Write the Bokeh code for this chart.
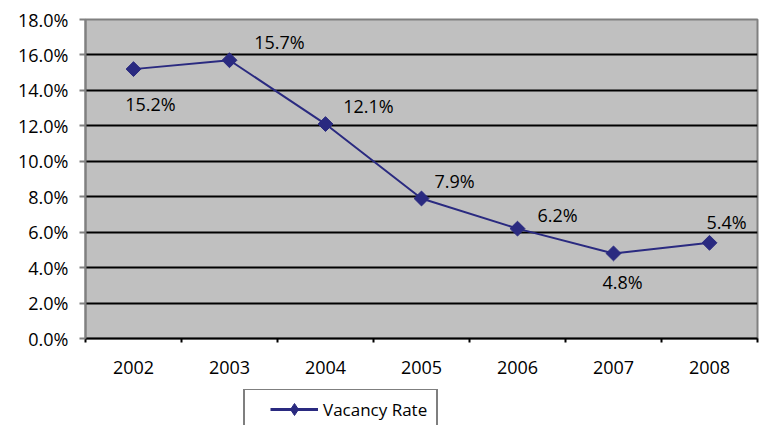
import numpy as np
from bokeh.plotting import figure
from bokeh.layouts import column
from bokeh.models import FixedTicker, Range1d, Legend, LegendItem, ColumnDataSource
from bokeh.core.properties import value
from bokeh.embed import file_html
from bokeh.resources import INLINE

# ---- data ----
years = ["2002", "2003", "2004", "2005", "2006", "2007", "2008"]
vacancy = [15.2, 15.7, 12.1, 7.9, 6.2, 4.8, 5.4]
y_ticks = [0, 2, 4, 6, 8, 10, 12, 14, 16, 18]
series_name = "Vacancy Rate"

# label placement (screen px offsets from each point)
label_dx = [17, 50, 43, 33, 40, 9, 17]
label_dy = [35, -18, -18, -17, -14, 29, -21]

FONT = "Open Sans"
LINE_COLOR = "#2A2A80"

xs = [i + 0.5 for i in range(len(years))]

p = figure(width=762, height=389, x_range=Range1d(0, len(years)), y_range=Range1d(0, 18),
           output_backend="svg", toolbar_location=None,
           min_border_left=85, min_border_right=5, min_border_top=19, min_border_bottom=51)
p.background_fill_color = "#C0C0C0"
p.border_fill_color = "white"
p.outline_line_color = "#808080"
p.outline_line_width = 2

# grid
p.xgrid.visible = False
p.ygrid.ticker = FixedTicker(ticks=y_ticks[1:-1])
p.ygrid.grid_line_color = "black"
p.ygrid.grid_line_width = 2

# y axis
ya = p.yaxis[0]
ya.ticker = FixedTicker(ticks=y_ticks)
ya.major_label_overrides = {v: f"{v:.1f}%" for v in y_ticks}
ya.axis_line_color = "#808080"
ya.axis_line_width = 2
ya.major_tick_line_color = "#808080"
ya.major_tick_line_width = 2
ya.major_tick_out = 6
ya.major_tick_in = 0
ya.minor_tick_line_color = None
ya.major_label_standoff = 11
ya.major_label_text_font = FONT
ya.major_label_text_font_size = "18px"
ya.major_label_text_color = "black"

# x axis
xa = p.xaxis[0]
xa.ticker = FixedTicker(ticks=xs, minor_ticks=list(range(len(years) + 1)))
xa.major_label_overrides = {x: y for x, y in zip(xs, years)}
xa.axis_line_color = "black"
xa.axis_line_width = 2
xa.major_tick_line_color = None
xa.major_tick_out = 0
xa.major_tick_in = 0
xa.minor_tick_line_color = "black"
xa.minor_tick_line_width = 2
xa.minor_tick_out = 4
xa.minor_tick_in = 0
xa.major_label_standoff = 18
xa.major_label_text_font = FONT
xa.major_label_text_font_size = "18px"
xa.major_label_text_color = "black"

src = ColumnDataSource(dict(x=xs, y=vacancy, label=[f"{v:.1f}%" for v in vacancy],
                            dx=label_dx, dy=label_dy))

p.line("x", "y", source=src, line_color=LINE_COLOR, line_width=2)
p.scatter("x", "y", source=src, marker="square", angle=np.pi / 4, size=10.5,
          fill_color=LINE_COLOR, line_color=LINE_COLOR)

p.text("x", "y", text="label", source=src, x_offset="dx", y_offset="dy",
       text_align="center", text_baseline="middle", text_font=value(FONT),
       text_font_size="18px", text_color="black")

# ---- legend strip below the chart ----
p2 = figure(width=762, height=36, x_range=Range1d(100, 101), y_range=Range1d(100, 101),
            output_backend="svg", toolbar_location=None,
            x_axis_location=None, y_axis_location=None,
            min_border=0, min_border_left=0, min_border_right=0,
            min_border_top=0, min_border_bottom=0)
p2.outline_line_color = None
p2.grid.visible = False
p2.background_fill_color = "white"
p2.border_fill_color = "white"

lr = p2.line("x", "y", source=src, line_color=LINE_COLOR, line_width=3)
sr = p2.scatter("x", "y", source=src, marker="diamond", size=12,
                fill_color=LINE_COLOR, line_color=LINE_COLOR)

legend = Legend(items=[LegendItem(label=series_name, renderers=[lr, sr])],
                location=(158, -5), orientation="vertical")
legend.title = "\u2003"
legend.title_location = "left"
legend.title_standoff = 4
legend.title_text_font = FONT
legend.title_text_font_size = "12px"
legend.border_line_color = "black"
legend.border_line_width = 2
legend.background_fill_color = "white"
legend.background_fill_alpha = 1
legend.padding = 4
legend.spacing = 0
legend.margin = 0
legend.glyph_width = 48
legend.glyph_height = 30
legend.label_standoff = 5
legend.label_width = 109
legend.label_text_font = FONT
legend.label_text_font_size = "17px"
legend.label_text_color = "black"
p2.add_layout(legend, "center")

layout = column(p, p2, spacing=0)
open("out.html", "w").write(file_html(layout, INLINE))
